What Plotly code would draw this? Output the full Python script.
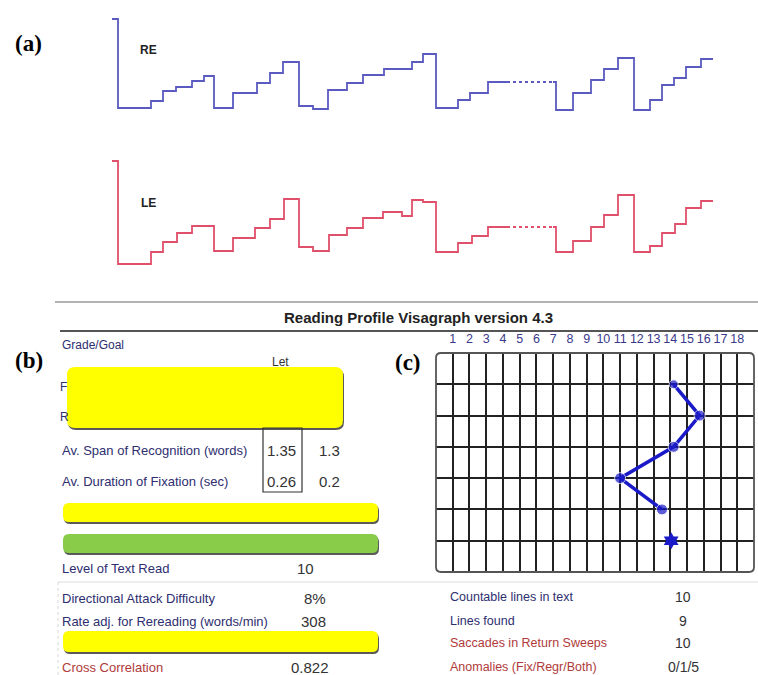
import plotly.graph_objects as go

W, H = 758, 675

# ---------------- Panel (a): eye-movement step traces ----------------
# time (samples) and horizontal eye position (arbitrary units, baseline 0)
re_t1 = [0, 6, 39, 51, 64, 80, 92, 102, 121, 145, 158, 171, 187, 201, 216, 235, 251, 272, 300, 311, 324, 346, 358, 376, 395]
re_p1 = [89, 0, 7, 17, 21, 27, 32, 0, 15, 25, 35, 46, 2, -1, 18, 25, 33, 39, 46, 54, 0, 8, 15, 26, 26]
re_tg = [395, 441]
re_pg = [26, 26]
re_t2 = [441, 444, 461, 479, 492, 506, 522, 538, 550, 562, 574, 589, 601]
re_p2 = [26, -2, 15, 28, 39, 50, -2, 8, 23, 30, 41, 49, 49]

le_t1 = [0, 6, 39, 51, 65, 80, 102, 121, 143, 158, 172, 187, 201, 217, 235, 251, 271, 290, 300, 311, 324, 346, 360, 376, 395]
le_p1 = [103, 0, 12, 22, 31, 38, 13, 26, 36, 45, 65, 17, 13, 29, 36, 46, 52, 48, 64, 62, 12, 21, 28, 37, 37]
le_tg = [395, 441]
le_pg = [37, 37]
le_t2 = [441, 444, 461, 479, 492, 506, 522, 538, 550, 563, 574, 589, 601]
le_p2 = [37, 12, 23, 37, 49, 69, 12, 18, 31, 40, 56, 63, 63]

# ---------------- Panel (c): reading-line fixation plot ----------------
c_cols = list(range(1, 19))
c_x = [14.2, 15.75, 14.2, 11.0, 13.5]
c_y = [1, 2, 3, 4, 5]
c_star_x = [14.05]
c_star_y = [6]

# ---------------- Panel (b) table ----------------
left_labels = ["Av. Span of Recognition (words)", "Av. Duration of Fixation (sec)",
               "Level of Text Read", "Directional Attack Difficulty",
               "Rate adj. for Rereading (words/min)", "Cross Correlation"]
left_values = ["1.35", "0.26", "10", "8%", "308", "0.822"]
right_labels = ["Countable lines in text", "Lines found",
                "Saccades in Return Sweeps", "Anomalies (Fix/Regr/Both)"]
right_values = ["10", "9", "10", "0/1/5"]


def px(x):
    return x / W


def py(y):
    return 1 - y / H


RE_COL = "#5a5ac0"
LE_COL = "#e0506a"

fig = go.Figure()
for t, p, dash in [(re_t1, re_p1, "solid"), (re_tg, re_pg, "dot"), (re_t2, re_p2, "solid")]:
    fig.add_trace(go.Scatter(x=t, y=p, mode="lines", line=dict(color=RE_COL, width=1.8, shape="hv", dash=dash),
                             xaxis="x", yaxis="y", showlegend=False, hoverinfo="skip"))
for t, p, dash in [(le_t1, le_p1, "solid"), (le_tg, le_pg, "dot"), (le_t2, le_p2, "solid")]:
    fig.add_trace(go.Scatter(x=t, y=p, mode="lines", line=dict(color=LE_COL, width=1.8, shape="hv", dash=dash),
                             xaxis="x", yaxis="y2", showlegend=False, hoverinfo="skip"))

fig.add_trace(go.Scatter(x=c_x, y=c_y, mode="lines+markers",
                         line=dict(color="#1a1ac8", width=3.5),
                         marker=dict(size=[9, 11, 11, 11, 11], color="#1a1ac8"),
                         xaxis="x3", yaxis="y3", showlegend=False, hoverinfo="skip"))
fig.add_trace(go.Scatter(x=c_star_x, y=c_star_y, mode="markers",
                         marker=dict(symbol="hexagram", size=13, color="#1a1ac8"),
                         xaxis="x3", yaxis="y3", showlegend=False, hoverinfo="skip"))

shapes = []


def rrect(x0, y0, x1, y1, r, fill, line_col=None, lw=0):
    rx, ry = r / W, r / H
    X0, X1, Y0, Y1 = px(x0), px(x1), py(y0), py(y1)
    path = (f"M {X0+rx},{Y0} L {X1-rx},{Y0} Q {X1},{Y0} {X1},{Y0-ry} "
            f"L {X1},{Y1+ry} Q {X1},{Y1} {X1-rx},{Y1} L {X0+rx},{Y1} "
            f"Q {X0},{Y1} {X0},{Y1+ry} L {X0},{Y0-ry} Q {X0},{Y0} {X0+rx},{Y0} Z")
    return dict(type="path", path=path, xref="paper", yref="paper", fillcolor=fill,
                line=dict(color=line_col or fill, width=lw), layer="above")


def hline(x0, x1, y, col, w, dash="solid"):
    return dict(type="line", xref="paper", yref="paper", x0=px(x0), x1=px(x1), y0=py(y), y1=py(y),
                line=dict(color=col, width=w, dash=dash), layer="above")


def vline(x, y0, y1, col, w, dash="solid"):
    return dict(type="line", xref="paper", yref="paper", x0=px(x), x1=px(x), y0=py(y0), y1=py(y1),
                line=dict(color=col, width=w, dash=dash), layer="above")


# header lines
shapes.append(hline(55, 758, 302, "#9a9a9a", 1.5))
shapes.append(hline(60, 758, 331, "#555555", 2))
# lower separator lines
shapes.append(hline(58, 758, 582, "#dcdcdc", 1))
shapes.append(vline(58, 582, 675, "#d8d8d8", 1, "dot"))

# shadows + bars
for (x0, y0, x1, y1, col) in [(67, 367, 343, 428, "#ffff00"), (63, 503, 378, 522, "#ffff00"),
                               (63, 534, 378, 553, "#88cc4a"), (63, 631, 378, 652, "#ffff00")]:
    r = 8 if (y1 - y0) > 30 else 6
    shapes.append(rrect(x0 + 1, y0 + 2, x1 + 1, y1 + 2, r, "#5a5a5a"))
    shapes.append(rrect(x0, y0, x1, y1, r, col))

# box around left values
shapes.append(dict(type="rect", xref="paper", yref="paper", x0=px(263), x1=px(302), y0=py(428), y1=py(492),
                   line=dict(color="#333333", width=1.2), fillcolor="rgba(0,0,0,0)", layer="above"))
# panel (c) border
shapes.append(rrect(436, 353, 754, 572, 5, "rgba(0,0,0,0)", "#555555", 1.8))

ann = []
SERIF = "Liberation Serif, Times New Roman, serif"
SANS = "Liberation Sans, Arial, sans-serif"
TXT = "#2e2e70"
RED = "#b03a3a"


def txt(x, y, s, size=13, color=TXT, anchor="left", family=SANS, bold=False):
    ann.append(dict(x=px(x), y=py(y), xref="paper", yref="paper", text=f"<b>{s}</b>" if bold else s,
                    showarrow=False, xanchor=anchor, yanchor="middle",
                    font=dict(family=family, size=size, color=color)))


txt(13, 43, "(a)", 23, "#000", family=SERIF, bold=True)
txt(13, 360, "(b)", 23, "#000", family=SERIF, bold=True)
txt(393, 362, "(c)", 23, "#000", family=SERIF, bold=True)
txt(148, 50, "RE", 12, "#222", "center", SANS, True)
txt(148, 203, "LE", 12, "#222", "center", SANS, True)

txt(418, 317, "Reading Profile Visagraph version 4.3", 15, "#222", "center", SANS, True)
txt(60, 345, "Grade/Goal", 12)
txt(280, 362, "Let", 12, "#333", "center")
txt(58, 387, "F", 12)
txt(58, 417, "R", 12)

left_y = [450, 481, 568, 598, 621, 667]
left_vx = [281, 281, 305, 315, 313, 310]
for lab, val, y, vx in zip(left_labels, left_values, left_y, left_vx):
    col = RED if lab.startswith("Cross") else TXT
    txt(60, y, lab, 13, col)
    txt(vx, y, val, 15, "#333", "center")
txt(317, 450, "1.3", 15, "#333")
txt(317, 481, "0.2", 15, "#333")

right_y = [597, 621, 643, 667]
for lab, val, y in zip(right_labels, right_values, right_y):
    col = RED if lab.startswith(("Saccades", "Anomalies")) else TXT
    txt(448, y, lab, 12.5, col)
    txt(683, y, val, 14, "#333", "center")

fig.update_layout(
    width=W, height=H, margin=dict(l=0, r=0, t=0, b=0, pad=0),
    paper_bgcolor="white", plot_bgcolor="rgba(0,0,0,0)",
    shapes=shapes, annotations=ann,
    xaxis=dict(domain=[0, 1], range=[-112, 646], visible=False, fixedrange=True),
    yaxis=dict(domain=[0, 1], range=[-567, 108], visible=False, fixedrange=True),
    yaxis2=dict(overlaying="y", range=[-411, 264], visible=False, fixedrange=True),
    xaxis3=dict(domain=[px(436), px(754)], anchor="y3", range=[0, 19], side="top",
                tickvals=c_cols, ticktext=[str(c) for c in c_cols], ticks="outside", ticklen=4,
                tickcolor="rgba(0,0,0,0)",
                tickfont=dict(family=SANS, size=12.5, color="#3a3a8a"),
                showgrid=True, gridcolor="#222", gridwidth=1.6, zeroline=False, showline=False,
                fixedrange=True),
    yaxis3=dict(domain=[py(572), py(353)], anchor="x3", range=[7, 0], tickvals=[1, 2, 3, 4, 5, 6],
                showticklabels=False, ticks="", showgrid=True, gridcolor="#222", gridwidth=1.6,
                zeroline=False, showline=False, fixedrange=True),
)

fig.write_html("out.html", config={"displayModeBar": False},
               post_script="document.body.style.margin='0px';document.body.style.overflow='hidden';")
